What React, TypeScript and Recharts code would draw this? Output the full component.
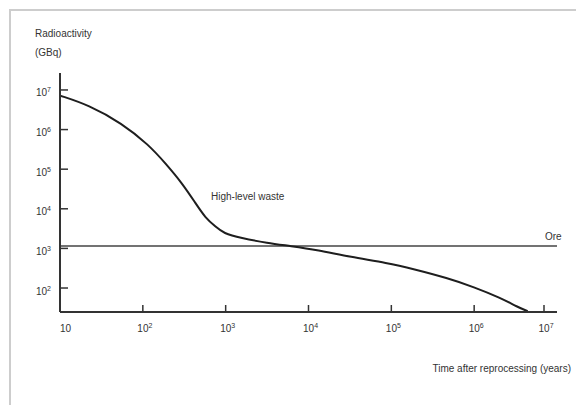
import { LineChart, Line, XAxis, YAxis } from "recharts";

// Time after reprocessing (years) and radioactivity (GBq)
const years = [
  10, 22, 56, 118, 188, 299, 433, 572, 755, 944, 1510, 3200, 6080, 12900,
  32200, 89600, 184000, 477000, 990000, 2090000, 3350000, 4430000,
];
const activity = [
  7.2e6, 4.2e6, 1.44e6, 4.1e5, 1.4e5, 4.4e4, 1.38e4, 5.8e3, 3.55e3, 2.4e3,
  1.83e3, 1.37e3, 1.15e3, 910, 605, 430, 302, 178, 106, 56, 33, 26,
];

// Ore level, flat across the whole range
const oreYears = [10, 1e7];
const oreLevel = [1150, 1150];

const xTicks = [10, 1e2, 1e3, 1e4, 1e5, 1e6, 1e7];
const yTicks = [1e2, 1e3, 1e4, 1e5, 1e6, 1e7];

const waste = years.map((t, i) => ({ t, v: activity[i] }));
const ore = oreYears.map((t, i) => ({ t, v: oreLevel[i] }));

const FONT = "'Liberation Sans', Arial, sans-serif";
const INK = "#333";

function exponent(v: number) {
  return Math.round(Math.log10(v));
}

function XTick({ x, y, payload }: any) {
  const e = exponent(payload.value);
  if (e === 1) {
    return (
      <text x={x} y={y + 20} fontSize={10} fill={INK} fontFamily={FONT}>
        10
      </text>
    );
  }
  return (
    <g>
      <line x1={x} x2={x} y1={y} y2={y - 7} stroke={INK} strokeWidth={1.5} />
      <text x={x - 5.5} y={y + 20} fontSize={10} fill={INK} fontFamily={FONT}>
        10
        <tspan dy={-4} fontSize={7}>
          {e}
        </tspan>
      </text>
    </g>
  );
}

function YTick({ x, y, payload }: any) {
  const e = exponent(payload.value);
  return (
    <g>
      <line x1={x} x2={x + 8} y1={y} y2={y} stroke={INK} strokeWidth={1.5} />
      <text
        x={x - 9}
        y={y + 6.5}
        fontSize={10}
        fill={INK}
        fontFamily={FONT}
        textAnchor="end"
      >
        10
        <tspan dy={-4} fontSize={7}>
          {e}
        </tspan>
      </text>
    </g>
  );
}

export default function App() {
  return (
    <div
      style={{
        position: "absolute",
        left: 0,
        top: 0,
        width: 576,
        height: 405,
        background: "#fff",
        overflow: "hidden",
      }}
    >
      <div
        style={{
          position: "absolute",
          left: 9,
          top: 9,
          width: 700,
          height: 600,
          border: "2px solid #cdcdcd",
        }}
      />
      <LineChart
        width={576}
        height={405}
        margin={{ top: 73, right: 19, bottom: 0, left: 0 }}
      >
        <XAxis
          dataKey="t"
          type="number"
          scale="log"
          domain={[10, 1e7]}
          ticks={xTicks}
          allowDataOverflow
          height={93}
          tickSize={0}
          tickMargin={0}
          tickLine={false}
          tick={<XTick />}
          axisLine={{ stroke: INK, strokeWidth: 2 }}
        />
        <YAxis
          dataKey="v"
          type="number"
          scale="log"
          domain={[24.8, 2.68e7]}
          ticks={yTicks}
          allowDataOverflow
          width={60}
          tickSize={0}
          tickMargin={0}
          tickLine={false}
          tick={<YTick />}
          axisLine={{ stroke: INK, strokeWidth: 2 }}
        />
        <Line
          data={ore}
          dataKey="v"
          type="linear"
          stroke="#444"
          strokeWidth={1.6}
          dot={false}
          isAnimationActive={false}
        />
        <Line
          data={waste}
          dataKey="v"
          type="basis"
          stroke="#1e1e1e"
          strokeWidth={2}
          dot={false}
          isAnimationActive={false}
        />
      </LineChart>
      <svg
        width={576}
        height={405}
        style={{ position: "absolute", left: 0, top: 0, pointerEvents: "none" }}
        fontFamily={FONT}
        fontSize={10}
        fill={INK}
      >
        <text x={35} y={37}>Radioactivity</text>
        <text x={35} y={56}>(GBq)</text>
        <text x={211} y={200}>High-level waste</text>
        <text x={545} y={240}>Ore</text>
        <text x={571} y={372} textAnchor="end">
          Time after reprocessing (years)
        </text>
      </svg>
    </div>
  );
}
